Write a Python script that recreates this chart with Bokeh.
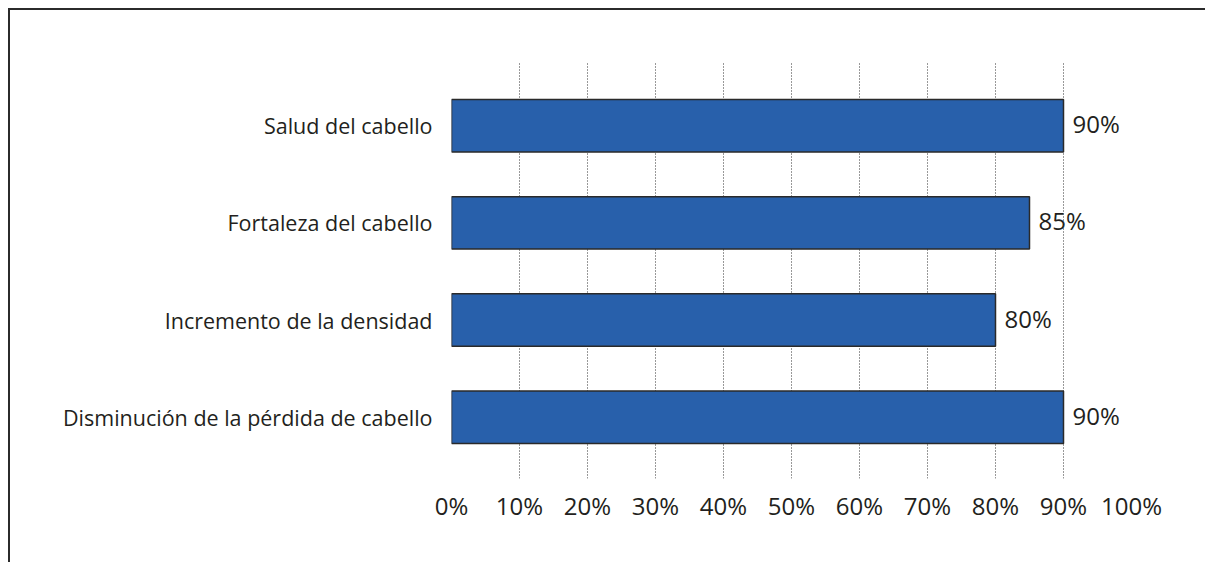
from bokeh.plotting import figure
from bokeh.models import ColumnDataSource, Range1d, FixedTicker
from bokeh.core.properties import value
from bokeh.embed import file_html
from bokeh.resources import INLINE

categories = ["Salud del cabello", "Fortaleza del cabello", "Incremento de la densidad",
              "Disminución de la pérdida de cabello"]
values = [90, 85, 80, 90]
x_ticks = [0, 10, 20, 30, 40, 50, 60, 70, 80, 90, 100]
x_tick_labels = ["0%", "10%", "20%", "30%", "40%", "50%", "60%", "70%", "80%", "90%", "100%"]

n = len(categories)
ypos = [n - 1 - i for i in range(n)]
src = ColumnDataSource(dict(y=ypos, v=values, lab=[f"{v}%" for v in values]))

FONT = "Open Sans"
TXT = "#231f20"

p = figure(width=1210, height=554, output_backend="svg", toolbar_location=None,
           x_range=Range1d(0, 100), y_range=Range1d(-0.63, 3.65))
p.styles = {"border-top": "2px solid #2b2b2b", "border-left": "2px solid #2b2b2b",
            "margin-left": "8px", "margin-top": "8px"}
p.min_border_left = 441
p.min_border_right = 89
p.min_border_top = 52
p.min_border_bottom = 86
p.outline_line_color = None
p.background_fill_color = "white"
p.border_fill_color = "white"

p.hbar(y="y", right="v", left=0, height=0.54, source=src,
       fill_color="#2860ab", line_color="#2a2a2a", line_width=1.5)
p.text(x="v", y="y", text="lab", source=src, x_offset=9, y_offset=-2,
       text_baseline="middle", text_align="left", level="image",
       text_font=value(FONT), text_font_size="24px", text_color=TXT)

p.xaxis.ticker = FixedTicker(ticks=x_ticks)
p.xaxis.major_label_overrides = {t: l for t, l in zip(x_ticks, x_tick_labels)}
p.yaxis.ticker = FixedTicker(ticks=ypos)
p.yaxis.major_label_overrides = {y: c for y, c in zip(ypos, categories)}

for ax in (p.xaxis[0], p.yaxis[0]):
    ax.axis_line_color = None
    ax.major_tick_line_color = None
    ax.minor_tick_line_color = None
    ax.major_label_text_font = FONT
    ax.major_label_text_color = TXT
p.xaxis.major_label_text_font_size = "24px"
p.xaxis.major_label_standoff = 4
p.yaxis.major_label_text_font_size = "21.5px"
p.yaxis.major_label_standoff = 13

p.xgrid.ticker = FixedTicker(ticks=x_ticks)
p.xgrid.grid_line_color = "#333333"
p.xgrid.grid_line_dash = "1 2"
p.xgrid.grid_line_width = 1
p.ygrid.grid_line_color = None

open("out.html", "w").write(file_html(p, INLINE))
